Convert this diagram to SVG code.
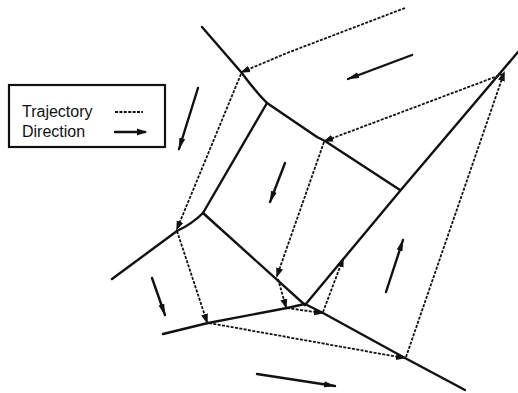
<svg xmlns="http://www.w3.org/2000/svg" width="518" height="393" viewBox="0 0 518 393">
  <style>
    .edge { fill: none; stroke: #111; stroke-width: 2.4; stroke-linecap: round; stroke-linejoin: round; }
    .traj { fill: none; stroke: #111; stroke-width: 1.8; stroke-dasharray: 3 1.4; }
    .dir { fill: none; stroke: #111; stroke-width: 2.4; stroke-linecap: round; }
    .label { font-family: "Liberation Sans", Arial, sans-serif; font-size: 16px; fill: #111; }
  </style>
  <defs>
    <marker id="head" markerUnits="userSpaceOnUse" markerWidth="12" markerHeight="7" refX="11" refY="3.5" orient="auto">
      <path d="M0,0.5 L12,3.5 L0,6.5 Z" fill="#111"/>
    </marker>
    <marker id="thead" markerUnits="userSpaceOnUse" markerWidth="10" markerHeight="8" refX="8" refY="4" orient="auto">
      <path d="M0,0.5 L10,4 L0,7.5 Z" fill="#111"/>
    </marker>
  </defs>

  <!-- key -->
  <g id="legend">
    <rect x="9" y="85" width="156" height="62" fill="none" stroke="#111" stroke-width="2.2"/>
    <text class="label" x="22" y="117">Trajectory</text>
    <text class="label" x="22" y="137">Direction</text>
    <line class="traj" x1="115" y1="112" x2="143" y2="112"/>
    <line class="dir" x1="115" y1="132" x2="145" y2="132" marker-end="url(#thead)"/>
  </g>

  <!-- cell boundaries -->
  <g id="boundaries">
    <path class="edge" d="M202,27 L241,72 Q256,92 267,103"/>
    <path class="edge" d="M267,103 L317,137 L325,141 L400,190"/>
    <path class="edge" d="M267,103 L203,213"/>
    <path class="edge" d="M203,213 Q192,224 177,231 L112,279"/>
    <path class="edge" d="M203,213 L305,305"/>
    <path class="edge" d="M518,52 L400,191 L305,305"/>
    <path class="edge" d="M163,334 L208,323 L287,308 L305,304"/>
    <path class="edge" d="M305,304 L323,313 L405,358 L465,390"/>
  </g>

  <!-- trajectory -->
  <g id="trajectory">
    <path class="traj" d="M405,8 L287,53 L242,72" marker-end="url(#thead)"/>
    <path class="traj" d="M241,74 L177,229" marker-end="url(#thead)"/>
    <path class="traj" d="M177,231 L207,322" marker-end="url(#thead)"/>
    <path class="traj" d="M209,323 L404,358" marker-end="url(#thead)"/>
    <path class="traj" d="M406,357 L504,73" marker-end="url(#thead)"/>
    <path class="traj" d="M503,74 L325,141" marker-end="url(#thead)"/>
    <path class="traj" d="M324,142 L277,276" marker-end="url(#thead)"/>
    <path class="traj" d="M278,279 L286,307" marker-end="url(#thead)"/>
    <path class="traj" d="M287,308 L322,313" marker-end="url(#thead)"/>
    <path class="traj" d="M323,312 L343,259" marker-end="url(#thead)"/>
  </g>

  <!-- flow directions -->
  <g id="directions">
    <line class="dir" x1="412" y1="55" x2="348" y2="79" marker-end="url(#head)"/>
    <line class="dir" x1="198" y1="88" x2="179" y2="149" marker-end="url(#head)"/>
    <line class="dir" x1="285" y1="163" x2="270" y2="202" marker-end="url(#head)"/>
    <line class="dir" x1="152" y1="278" x2="165" y2="315" marker-end="url(#head)"/>
    <line class="dir" x1="386" y1="292" x2="403" y2="240" marker-end="url(#head)"/>
    <line class="dir" x1="257" y1="374" x2="335" y2="386" marker-end="url(#head)"/>
  </g>
</svg>
